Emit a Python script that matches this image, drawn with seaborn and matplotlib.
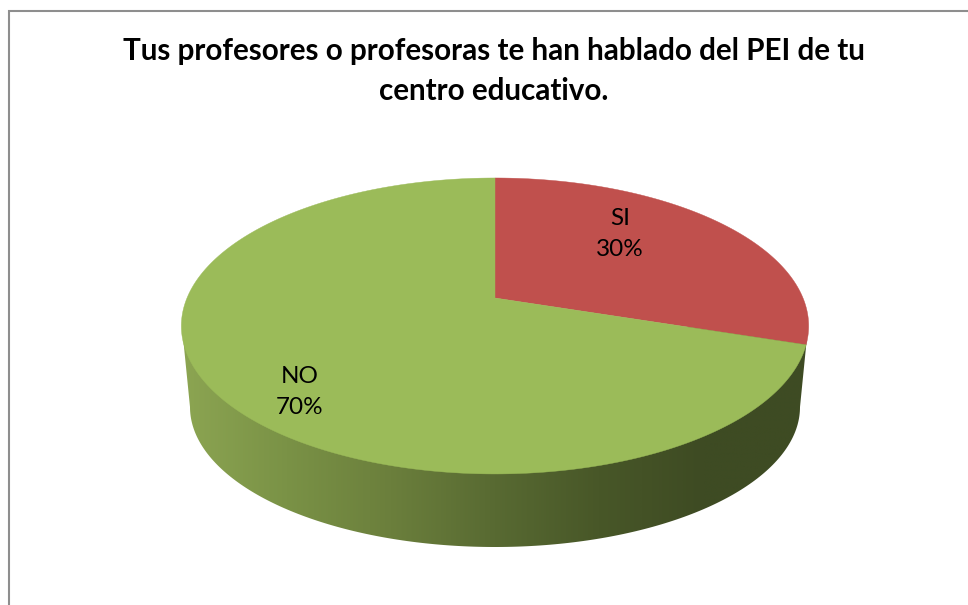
import numpy as np
import seaborn as sns
import matplotlib.pyplot as plt

title = 'Tus profesores o profesoras te han hablado del PEI de tu\ncentro educativo.'
labels = ['SI', 'NO']
values = [30, 70]
colors = ['#C0504D', '#9BBB59']
# side of the pie, left to right
side_colors = ['#8CA552', '#7A9246', '#6B7F3C', '#586A32', '#485728', '#3E4B23', '#3E4B23']

sns.set_theme(style='white')
plt.rcParams['font.family'] = ['Lato', 'DejaVu Sans']

fig = plt.figure(figsize=(9.68, 6.05), dpi=100)
ax = fig.add_axes([0, 0, 1, 1])
ax.set_xlim(0, 968)
ax.set_ylim(605, 0)
ax.axis('off')

# chart frame, cut by the picture on the right and bottom
ax.plot([8.5, 8.5, 968], [605, 10.5, 10.5], color='#8E8E8E', lw=1.5, solid_joinstyle='miter')

cx, cy = 495, 298
k, a, b = 0.189, 142.7, 308


def top_xy(theta):
    # tilted circle, theta in radians clockwise from 12 o'clock
    u, v = np.sin(theta), np.cos(theta)
    d = 1 + k * v
    return cx + b * u / d, cy - a * v / d


# side wall: narrower ellipse underneath, gradient clipped to its outline
t = np.linspace(0, np.pi, 200)
low_x = 495 + 305 * np.cos(t)
low_y = 407 + 140 * np.sin(t)
side_x = np.r_[808, low_x, 182]
side_y = np.r_[327, low_y, 327]
cmap = sns.blend_palette(side_colors, as_cmap=True)
im = ax.imshow(np.linspace(0, 1, 640)[None, :], cmap=cmap, aspect='auto',
               extent=[181, 809, 560, 290], interpolation='bilinear')
clip = ax.fill(side_x, side_y, color='none')[0]
im.set_clip_path(clip)
ax.set_xlim(0, 968)
ax.set_ylim(605, 0)

# top face, slices start at 12 o'clock and run clockwise
fracs = np.array(values) / sum(values)
edges = np.r_[0, np.cumsum(fracs)] * 2 * np.pi
for i in range(len(values)):
    th = np.linspace(edges[i], edges[i + 1], 300)
    x, y = top_xy(th)
    ax.fill(np.r_[cx, x], np.r_[cy, y], color=colors[i], lw=0.3)

ax.text(620, 234, f'{labels[0]}\n{values[0]}%', ha='center', va='center', fontsize=17.5,
        color='black', linespacing=1.6)
ax.text(299.5, 392, f'{labels[1]}\n{values[1]}%', ha='center', va='center', fontsize=17.5,
        color='black', linespacing=1.6)

ax.text(494, 71, title, ha='center', va='center', fontsize=21.3, fontweight='bold',
        color='black', linespacing=1.5)

fig.savefig('out.png', dpi=100)
